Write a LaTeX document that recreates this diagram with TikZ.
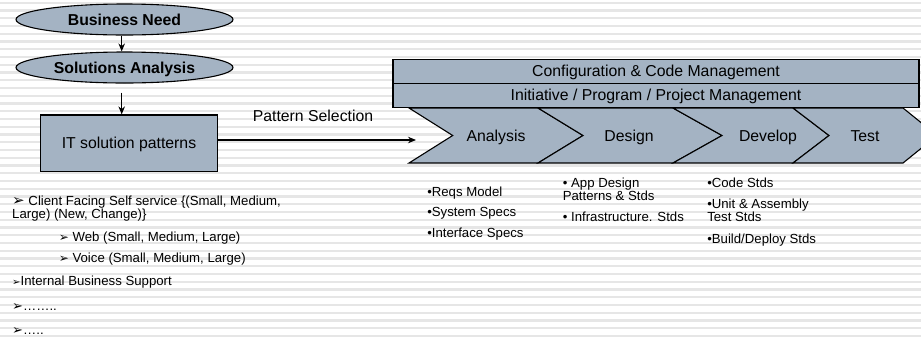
\documentclass[tikz,border=0pt]{standalone}
\usepackage{fontspec}
\setmainfont{Liberation Sans}
\newfontfamily\dingfont{DejaVu Sans}
\usetikzlibrary{arrows.meta,positioning,shapes.geometric}
\definecolor{slate}{RGB}{164,179,195}
\definecolor{stripegray}{RGB}{230,230,230}
\newcommand{\bigtxt}{\fontsize{15.8}{18}\selectfont}
\newcommand{\smalltxt}{\fontsize{13.2}{15}\selectfont}
\newcommand{\arr}[1]{{\dingfont\fontsize{#1}{#1}\selectfont ➢}}

\begin{document}
\begin{tikzpicture}[x=1pt,y=-1pt,>={Stealth[length=8pt,width=6.5pt]},line width=1.1pt,
  oval/.style={ellipse,draw,fill=slate,minimum width=217pt,minimum height=31pt,inner sep=0,font=\bigtxt\bfseries,text height=11.3pt,text depth=0pt},
  block/.style={draw,fill=slate,minimum width=176.6pt,minimum height=56.7pt,font=\bigtxt,text height=11.3pt,text depth=0pt},
  bar/.style={draw,fill=slate,minimum width=526pt,minimum height=24pt,inner sep=0,font=\bigtxt,text height=11.3pt,text depth=0pt},
  stage/.style={inner sep=0,font=\bigtxt,text height=11.3pt,text depth=0pt},
  note/.style={anchor=west,inner sep=0,font=\smalltxt,text height=9.45pt,text depth=0pt}]
  \useasboundingbox (0,0) rectangle (921,341);
  \clip (0,0) rectangle (921,341);
  \fill[white] (0,0) rectangle (921,341);
  \foreach \k in {0,...,43}
    \draw[stripegray,line width=2.2pt] (0,{2.7+7.75*\k}) -- (921,{2.7+7.75*\k});

  \node[oval] (need) at (124.5,19.5) {Business Need};
  \node[oval] (sol) at (124.5,67.5) {Solutions Analysis};
  \node[block] (itbox) at (129,143.3) {IT solution patterns};
  \path[->] ([xshift=-2.8pt]need.south) edge ([xshift=-2.8pt]sol.north)
            ([xshift=-2.8pt]sol.south) edge[shorten <=9pt] ([xshift=-7.3pt]itbox.north);

  \node[bar] (config) at (656,71.3) {Configuration \& Code Management};
  \node[bar] (progmgmt) at (656,95.3) {Initiative / Program / Project Management};

  \foreach \a/\b/\c/\d in {409/452.7/538/583,538/583/673/722,673/722/793/829,793/829/903/937}
    \draw[fill=slate] (\a,108) -- (\c,108) -- (\d,135.5) -- (\c,163) -- (\a,163) -- (\b,135.5) -- cycle;
  \node[stage] (analysis) at (496,135.5) {Analysis};
  \node[stage] (design) at (629,135.5) {Design};
  \node[stage] (develop) at (768,135.5) {Develop};
  \node[stage] (test) at (865,135.5) {Test};

  \coordinate (selin) at (416,140);
  \node[stage] (selabel) at (313,116) {Pattern Selection};
  \path[->] (itbox.east |- selin) edge (selin);

  \node[note] (client) at (11.7,200.7) {\arr{15} Client Facing Self service \{(Small, Medium,};
  \node[note] (client2) at (11.7,213.3) {Large) (New, Change)\}};
  \node[note] (web) at (58.3,236.7) {\arr{12} Web (Small, Medium, Large)};
  \node[note] (voice) at (58.3,257.3) {\arr{12} Voice (Small, Medium, Large)};
  \node[note] (internal) at (11.7,280.7) {\arr{10}Internal Business Support};
  \node[note] (more1) at (11.7,306) {\arr{13}……..};
  \node[note] (more2) at (11.7,329.6) {\arr{13}…..};

  \node[note] (reqs) at (426.7,191.7) {•Reqs Model};
  \node[note] (sysspec) at (426.7,211.7) {•System Specs};
  \node[note] (ifspec) at (426.7,232.3) {•Interface Specs};

  \node[note] (appdes) at (562.3,182.7) {• App Design};
  \node[note] (appdes2) at (562.3,196) {Patterns \& Stds};
  \node[note] (infra) at (562.3,216.7) {• Infrastructure. Stds};

  \node[note] (code) at (706.7,182.7) {•Code Stds};
  \node[note] (unit) at (706.7,203.3) {•Unit \& Assembly};
  \node[note] (unit2) at (706.7,216.7) {Test Stds};
  \node[note] (build) at (706.7,238.3) {•Build/Deploy Stds};
\end{tikzpicture}
\end{document}
